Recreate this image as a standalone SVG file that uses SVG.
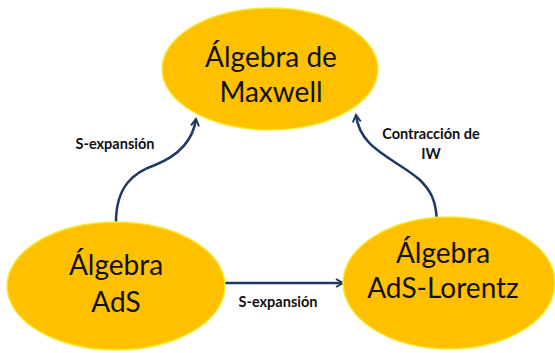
<svg xmlns="http://www.w3.org/2000/svg" width="555" height="353" viewBox="0 0 555 353">
<style>
.node{fill:#FFC000;stroke:#F4EC3C;stroke-width:1.5}
.big{font-family:Lato,"Liberation Sans",sans-serif;font-size:28px;fill:#111;text-anchor:middle}
.lbl{font-family:Lato,"Liberation Sans",sans-serif;font-size:14.5px;font-weight:bold;fill:#111;text-anchor:middle}
.edge{fill:none;stroke:#1F3864;stroke-width:2.5;marker-end:url(#ah)}
</style>
<defs>
<marker id="ah" viewBox="0 0 10 10" refX="8" refY="5" markerWidth="4" markerHeight="4" orient="auto" markerUnits="strokeWidth">
<path d="M1,1 L8,5 L1,9" fill="none" stroke="#1F3864" stroke-width="2"/>
</marker>
</defs>
<g id="connectors">
<path class="edge" d="M116,222 C116,185 135,172 155,165 C180,155 193,140 196,119"/>
<path class="edge" d="M437,226 C437,200 430,190 420,180 C395,158 360,150 356,115"/>
<path class="edge" d="M217,283 L343,283"/>
<text class="lbl" x="115" y="149">S-expansión</text>
<text class="lbl" x="431" y="139">Contracción de</text>
<text class="lbl" x="431" y="159">IW</text>
<text class="lbl" x="278" y="307">S-expansión</text>
</g>
<g id="maxwell">
<ellipse class="node" cx="270" cy="69" rx="108" ry="61"/>
<text class="big" x="271" y="67">Álgebra de</text>
<text class="big" x="271" y="102">Maxwell</text>
</g>
<g id="ads">
<ellipse class="node" cx="116" cy="286" rx="109" ry="64"/>
<text class="big" x="116" y="275">Álgebra</text>
<text class="big" x="116" y="312">AdS</text>
</g>
<g id="ads-lorentz">
<ellipse class="node" cx="449" cy="283" rx="106" ry="66"/>
<text class="big" x="443" y="263">Álgebra</text>
<text class="big" x="443" y="298">AdS-Lorentz</text>
</g>
</svg>
